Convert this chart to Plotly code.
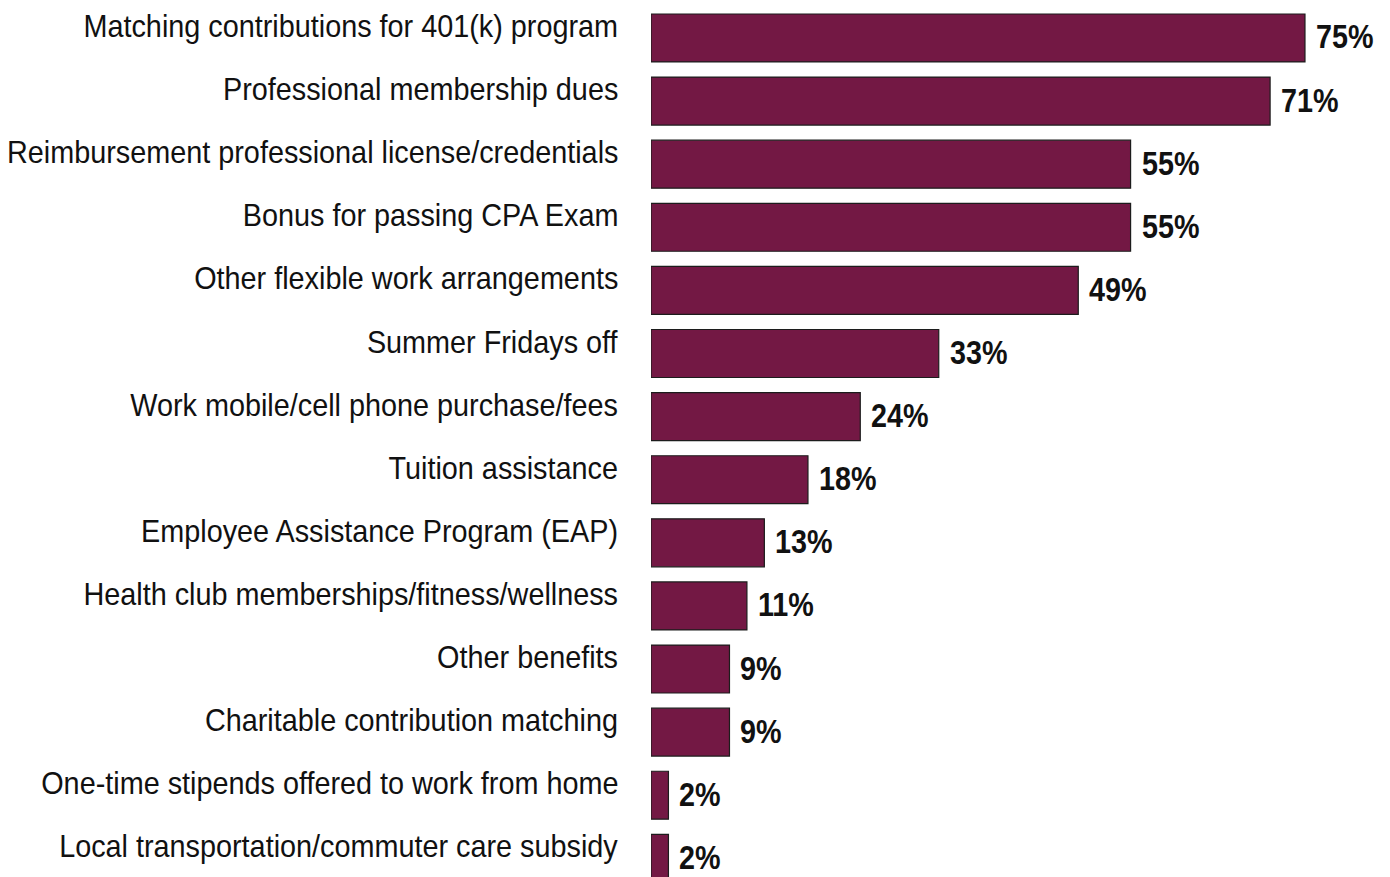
import plotly.graph_objects as go

categories = [
    "Matching contributions for 401(k) program",
    "Professional membership dues",
    "Reimbursement professional license/credentials",
    "Bonus for passing CPA Exam",
    "Other flexible work arrangements",
    "Summer Fridays off",
    "Work mobile/cell phone purchase/fees",
    "Tuition assistance",
    "Employee Assistance Program (EAP)",
    "Health club memberships/fitness/wellness",
    "Other benefits",
    "Charitable contribution matching",
    "One-time stipends offered to work from home",
    "Local transportation/commuter care subsidy",
]
percent = [75, 71, 55, 55, 49, 33, 24, 18, 13, 11, 9, 9, 2, 2]
value_labels = [f"{v}%" for v in percent]

BAR_COLOR = "#731844"
FONT = "Liberation Sans, Arial, sans-serif"
NARROW_CAT = 0.90   # horizontal squeeze for the category names
NARROW_VAL = 0.87   # horizontal squeeze for the bold value labels

fig = go.Figure(
    go.Bar(
        x=percent,
        y=categories,
        orientation="h",
        width=0.76,
        marker=dict(color=BAR_COLOR, line=dict(color="#1c1c1c", width=1.2)),
        hoverinfo="skip",
    )
)

# category names to the left of the bars, set slightly above bar centre
for cat in categories:
    fig.add_annotation(
        x=0, xref="paper", y=cat, yref="y",
        text=cat, showarrow=False,
        xanchor="right", yanchor="middle", align="right",
        xshift=-31, yshift=12,
        font=dict(family=FONT, size=32, color="#111111"),
    )

# bold value labels just past the bar ends
for cat, v, lab in zip(categories, percent, value_labels):
    fig.add_annotation(
        x=v, y=cat, text=f"<b>{lab}</b>", showarrow=False,
        xanchor="left", yanchor="middle", align="left",
        xshift=9, yshift=1,
        font=dict(family=FONT, size=33, color="#111111"),
    )

fig.update_layout(
    width=1390, height=877,
    margin=dict(l=651, r=0, t=0, b=0),
    paper_bgcolor="white", plot_bgcolor="white",
    showlegend=False,
    xaxis=dict(range=[0, 84.75], visible=False, fixedrange=True),
    yaxis=dict(
        categoryorder="array", categoryarray=categories,
        range=[13.296, -0.602], showticklabels=False,
        showgrid=False, zeroline=False, showline=False, ticks="",
    ),
)

# narrow the annotation text horizontally, pinned at its anchored edge
n_cat = len(categories)
post = """
var gd = document.getElementById('{plot_id}');
function squeeze() {
  gd.querySelectorAll('g.annotation').forEach(function (g) {
    var idx = parseInt(g.getAttribute('data-index'));
    var t = g.querySelector('text.annotation-text');
    if (!t) return;
    t.removeAttribute('transform');
    var b = t.getBBox();
    var isCat = idx < %d;
    var ox = isCat ? b.x + b.width : b.x;
    var s = isCat ? %f : %f;
    t.setAttribute('transform',
      'translate(' + ox + ',0) scale(' + s + ',1) translate(' + (-ox) + ',0)');
  });
}
squeeze();
gd.on('plotly_afterplot', squeeze);
""" % (n_cat, NARROW_CAT, NARROW_VAL)

fig.write_html("out.html", post_script=post)
